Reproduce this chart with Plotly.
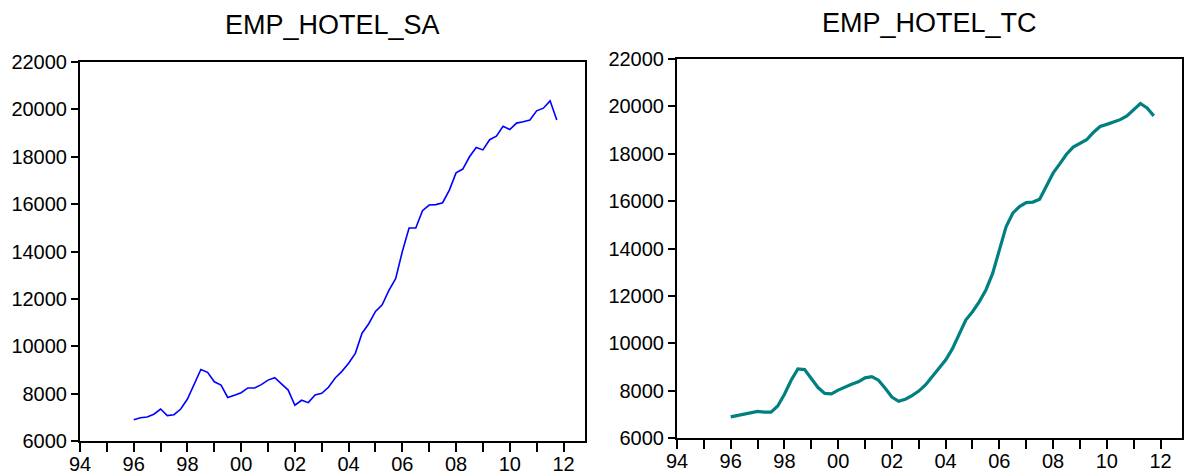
import plotly.graph_objects as go

# Quarterly hotel employment, 1996Q1 - 2011Q4
start_year = 1996
n_quarters = 64

emp_hotel_sa = [
    6900, 6980, 7010, 7130, 7350, 7070, 7110, 7350,
    7770, 8400, 9020, 8900, 8500, 8360, 7840, 7930,
    8040, 8240, 8240, 8380, 8570, 8670, 8430, 8150,
    7510, 7720, 7620, 7940, 8010, 8270, 8660, 8940,
    9280, 9700, 10550, 10950, 11470, 11750, 12360, 12850,
    14000, 14990, 14990, 15720, 15960, 15980, 16060, 16590,
    17320, 17480, 18000, 18390, 18290, 18720, 18870, 19290,
    19150, 19420, 19480, 19550, 19940, 20050, 20360, 19550,
]

emp_hotel_tc = [
    6890, 6950, 7000, 7090, 7120, 7090, 7090, 7350,
    7850, 8440, 8920, 8890, 8510, 8130, 7880, 7860,
    8020, 8160, 8270, 8370, 8540, 8590, 8440, 8100,
    7730, 7550, 7640, 7790, 7980, 8240, 8590, 8930,
    9290, 9760, 10410, 10980, 11330, 11750, 12250, 12950,
    13930, 14920, 15490, 15770, 15940, 15960, 16080, 16610,
    17180, 17570, 17980, 18280, 18420, 18590, 18900, 19150,
    19240, 19330, 19440, 19600, 19880, 20120, 19930, 19600,
]

quarter_x = [start_year + i / 4 for i in range(n_quarters)]

year_ticks = list(range(1994, 2013))
year_labels = [f"{y % 100:02d}" if y % 2 == 0 else "" for y in year_ticks]

y_ticks = list(range(6000, 22001, 2000))
y_labels = [str(v) for v in y_ticks]

titles = ["EMP_HOTEL_SA", "EMP_HOTEL_TC"]

FONT = "Arial, Liberation Sans, sans-serif"
W, H = 1186, 474

fig = go.Figure()

fig.add_trace(go.Scatter(
    x=quarter_x, y=emp_hotel_sa, mode="lines",
    line=dict(color="#0000FF", width=1.6),
    xaxis="x", yaxis="y", showlegend=False,
))
fig.add_trace(go.Scatter(
    x=quarter_x, y=emp_hotel_tc, mode="lines",
    line=dict(color="#008080", width=3.2),
    xaxis="x2", yaxis="y2", showlegend=False,
))

# panel frames in pixels: (left, right, top, bottom)
panels = [(80, 585, 62, 441), (677, 1182, 59, 438)]


def xdom(l, r):
    return [l / W, r / W]


def ydom(t, b):
    return [1 - b / H, 1 - t / H]


common_x = dict(
    range=[1994, 2012.8], tickmode="array", tickvals=year_ticks,
    ticktext=year_labels, ticks="outside", ticklen=9, tickwidth=1.5,
    tickcolor="black", showline=True, linecolor="black", linewidth=2,
    mirror=True, showgrid=False, zeroline=False, automargin=False,
    ticklabelstandoff=-5,
    tickfont=dict(family=FONT, size=20, color="black"),
)
common_y = dict(
    range=[6000, 22000], tickmode="array", tickvals=y_ticks,
    ticktext=y_labels, ticks="outside", ticklen=7, tickwidth=1.5,
    tickcolor="black", showline=True, linecolor="black", linewidth=2,
    mirror=True, showgrid=False, zeroline=False, automargin=False,
    tickfont=dict(family=FONT, size=20, color="black"),
)

(l1, r1, t1, b1), (l2, r2, t2, b2) = panels

fig.update_layout(
    width=W, height=H,
    margin=dict(l=0, r=0, t=0, b=0, autoexpand=False),
    paper_bgcolor="white", plot_bgcolor="white",
    xaxis=dict(domain=xdom(l1, r1), anchor="y", **common_x),
    yaxis=dict(domain=ydom(t1, b1), anchor="x", **common_y),
    xaxis2=dict(domain=xdom(l2, r2), anchor="y2", **common_x),
    yaxis2=dict(domain=ydom(t2, b2), anchor="x2", **common_y),
    annotations=[
        dict(text=titles[0], x=(l1 + r1) / 2 / W, y=1 - 25 / H,
             xref="paper", yref="paper", xanchor="center", yanchor="middle",
             showarrow=False, font=dict(family=FONT, size=27, color="black")),
        dict(text=titles[1], x=(l2 + r2) / 2 / W, y=1 - 23 / H,
             xref="paper", yref="paper", xanchor="center", yanchor="middle",
             showarrow=False, font=dict(family=FONT, size=27, color="black")),
    ],
)

fig.write_html("out.html")
